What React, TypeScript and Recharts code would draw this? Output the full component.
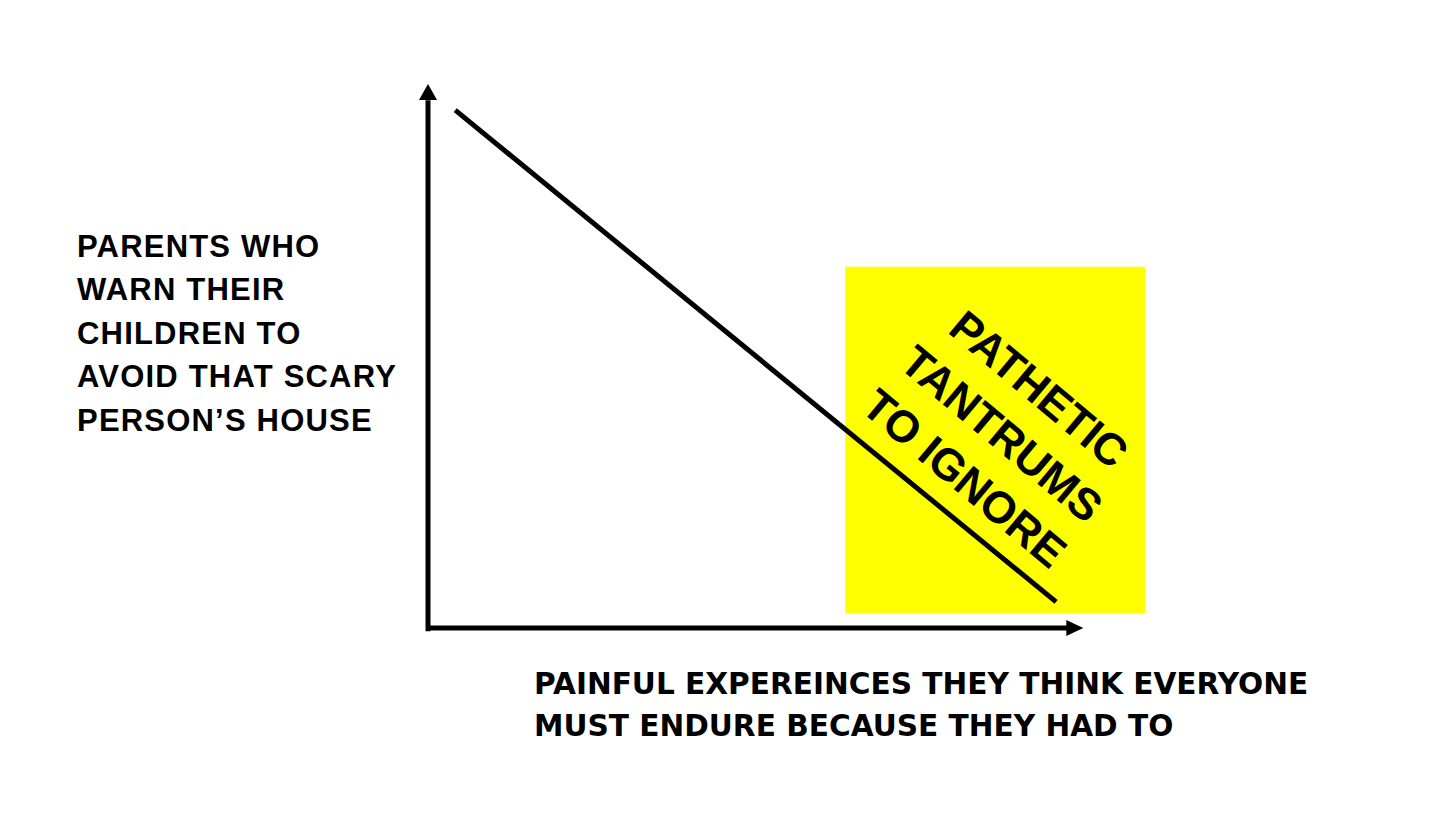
import React from 'react';
import {
  ComposedChart,
  Line,
  XAxis,
  YAxis,
  ReferenceArea,
  ReferenceLine,
  ReferenceDot,
  Customized,
} from 'recharts';

// ---- data ----
const lineX = [3.8, 87.6];
const lineY = [95.2, 4.8];
const lineData = lineX.map((x, i) => ({ x, y: lineY[i] }));

const zoneX = [58.2, 100];
const zoneY = [2.6, 66.4];
const zoneLines = ['PATHETIC', 'TANTRUMS', 'TO IGNORE'];

const xAxisEnd = 91.4; // arrow tip on x axis
const xAxisLineEnd = 89.2;
const yAxisEnd = 100; // arrow tip on y axis
const yAxisLineEnd = 97;

const yTitleLines = ['PARENTS WHO', 'WARN THEIR', 'CHILDREN TO', 'AVOID THAT SCARY', 'PERSON\u2019S HOUSE'];
const xTitleLines = ['PAINFUL EXPEREINCES THEY THINK EVERYONE', 'MUST ENDURE BECAUSE THEY HAD TO'];

// ---- layout ----
const W = 1456;
const H = 819;
const MARGIN = { top: 84, right: 311, bottom: 191, left: 428 };

const ArrowRight = (props: any) => {
  const { cx, cy } = props;
  if (cx == null || cy == null) return null;
  return <path d={`M${cx},${cy} L${cx - 17},${cy - 8} L${cx - 17},${cy + 8} Z`} fill="#000" />;
};

const ArrowUp = (props: any) => {
  const { cx, cy } = props;
  if (cx == null || cy == null) return null;
  return <path d={`M${cx},${cy} L${cx - 9},${cy + 16} L${cx + 9},${cy + 16} Z`} fill="#000" />;
};

const ZoneLabel = (props: any) => {
  const vb = props.viewBox || {};
  const cx = (vb.x ?? 0) + (vb.width ?? 0) / 2 + 7;
  const cy = (vb.y ?? 0) + (vb.height ?? 0) / 2 - 7;
  const lh = 58;
  return (
    <g transform={`translate(${cx},${cy}) rotate(40)`}>
      <text
        textAnchor="middle"
        fontFamily="'Liberation Sans', Arial, sans-serif"
        fontWeight="bold"
        fontSize={44.5}
        fill="#000"
      >
        {zoneLines.map((t, i) => (
          <tspan key={t} x={0} y={(i - 1) * lh + 16}>
            {t}
          </tspan>
        ))}
      </text>
    </g>
  );
};

const Titles = () => (
  <g>
    <text
      fontFamily="'Liberation Sans', Arial, sans-serif"
      fontWeight="bold"
      fontSize={31}
      letterSpacing={1.2}
      fill="#000"
    >
      {yTitleLines.map((t, i) => (
        <tspan key={t} x={77} y={257 + i * 43.4}>
          {t}
        </tspan>
      ))}
    </text>
    <text
      fontFamily="'DejaVu Sans', sans-serif"
      fontWeight="bold"
      fontSize={29.6}
      fill="#000"
    >
      {xTitleLines.map((t, i) => (
        <tspan key={t} x={534} y={694 + i * 42}>
          {t}
        </tspan>
      ))}
    </text>
  </g>
);

export default function App() {
  return (
    <div style={{ position: 'absolute', left: 0, top: 0, width: W, height: H, background: '#fff' }}>
      <ComposedChart width={W} height={H} data={lineData} margin={MARGIN}>
        <XAxis type="number" dataKey="x" domain={[0, 100]} hide />
        <YAxis type="number" domain={[0, 100]} hide />
        <ReferenceArea
          x1={zoneX[0]}
          x2={zoneX[1]}
          y1={zoneY[0]}
          y2={zoneY[1]}
          fill="#FFFF00"
          fillOpacity={1}
          stroke="none"
          label={<ZoneLabel />}
        />
        <ReferenceLine
          segment={[
            { x: 0, y: 0 },
            { x: xAxisLineEnd, y: 0 },
          ]}
          stroke="#000"
          strokeWidth={5}
          ifOverflow="visible"
        />
        <ReferenceLine
          segment={[
            { x: 0, y: -0.6 },
            { x: 0, y: yAxisLineEnd },
          ]}
          stroke="#000"
          strokeWidth={5}
          ifOverflow="visible"
        />
        <ReferenceDot x={xAxisEnd} y={0} r={0} shape={<ArrowRight />} ifOverflow="visible" />
        <ReferenceDot x={0} y={yAxisEnd} r={0} shape={<ArrowUp />} ifOverflow="visible" />
        <Line
          type="linear"
          dataKey="y"
          stroke="#000"
          strokeWidth={5}
          dot={false}
          activeDot={false}
          isAnimationActive={false}
        />
        <Customized component={<Titles />} />
      </ComposedChart>
    </div>
  );
}
